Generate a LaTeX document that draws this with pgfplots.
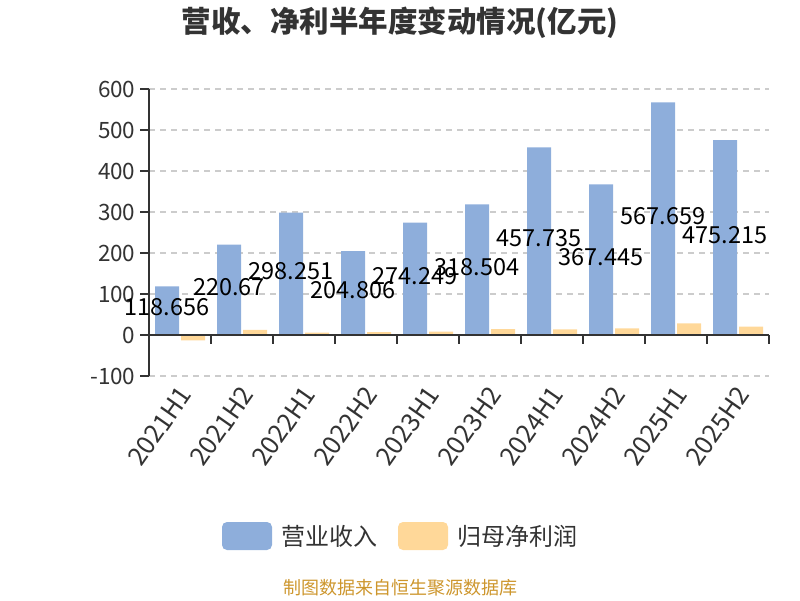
\documentclass[border=0pt]{standalone}
\usepackage{pgfplots}
\pgfplotsset{compat=1.18}
\usepackage{fontspec}
\setmainfont{Noto Sans CJK SC}
\definecolor{rev}{RGB}{142,174,219}
\definecolor{prof}{RGB}{255,216,153}
\definecolor{txt}{RGB}{51,51,51}
\definecolor{gridc}{RGB}{204,204,204}
\definecolor{foot}{RGB}{205,150,45}
\begin{document}
\begin{tikzpicture}[x=1pt,y=1pt]
\useasboundingbox (0,0) rectangle (800,600);
\begin{axis}[
  at={(149pt,224pt)}, anchor=south west,
  scale only axis, width=620pt, height=287pt,
  xmin=-0.5, xmax=9.5, ymin=-100, ymax=600,
  ytick={-100,0,100,200,300,400,500,600},
  ymajorgrids,
  grid style={gridc, line width=1.2pt, dash pattern=on 6pt off 5pt},
  axis y line*=left,
  axis x line*=bottom,
  x axis line style={draw=none},
  y axis line style={txt, line width=1.3pt},
  ytick style={txt, line width=1.3pt},
  xtick style={draw=none},
  tick align=outside,
  major tick length=9pt,
  /pgf/number format/assume math mode=true,
  yticklabel style={font=\fontsize{22.5}{22.5}\selectfont, text=txt, xshift=-1pt},
  xtick={0,1,2,3,4,5,6,7,8,9},
  xticklabels={2021H1,2021H2,2022H1,2022H2,2023H1,2023H2,2024H1,2024H2,2025H1,2025H2},
  xticklabel style={font=\fontsize{25.5}{25.5}\selectfont, text=txt, rotate=55, anchor=east, xshift=3pt, yshift=-7pt},
  clip=false,
]
\addplot[ybar, bar width=24pt, bar shift=-13pt, fill=rev, draw=none] coordinates {
 (0,118.656) (1,220.67) (2,298.251) (3,204.806) (4,274.249)
 (5,318.504) (6,457.735) (7,367.445) (8,567.659) (9,475.215)};
\addplot[ybar, bar width=24pt, bar shift=13pt, fill=prof, draw=none] coordinates {
 (0,-13) (1,12.2) (2,5.7) (3,7.3) (4,8)
 (5,14.6) (6,13.8) (7,16.3) (8,28.5) (9,20.3)};
\draw[txt, line width=1.3pt] (axis cs:-0.5,0) -- (axis cs:9.5,0);
\pgfplotsinvokeforeach{-0.5,0.5,1.5,2.5,3.5,4.5,5.5,6.5,7.5,8.5,9.5}{
  \draw[txt, line width=1.3pt] (axis cs:#1,0) -- ++(0pt,-9pt);
}
\begin{scope}[every node/.style={font=\fontsize{23.5}{23.5}\selectfont, text=black, inner sep=0pt}]
\node at (axis cs:-0.21,68) {118.656};
\node at (axis cs:0.79,117) {220.67};
\node at (axis cs:1.79,156) {298.251};
\node at (axis cs:2.79,110) {204.806};
\node at (axis cs:3.79,144) {274.249};
\node at (axis cs:4.79,166) {318.504};
\node at (axis cs:5.79,237) {457.735};
\node at (axis cs:6.79,190) {367.445};
\node at (axis cs:7.79,290) {567.659};
\node at (axis cs:8.79,244) {475.215};
\end{scope}
\end{axis}
\node[font=\fontsize{29.5}{29.5}\selectfont\bfseries, text=txt] at (400,577) {营收、净利半年度变动情况(亿元)};
\fill[rev, rounded corners=5pt] (222,50) rectangle (272,78);
\node[anchor=west, font=\fontsize{24}{24}\selectfont, text=txt, inner sep=0pt] at (281,64) {营业收入};
\fill[prof, rounded corners=5pt] (398,50) rectangle (448,78);
\node[anchor=west, font=\fontsize{24}{24}\selectfont, text=txt, inner sep=0pt] at (457,64) {归母净利润};
\node[font=\fontsize{18}{18}\selectfont, text=foot] at (400,12) {制图数据来自恒生聚源数据库};
\end{tikzpicture}
\end{document}
